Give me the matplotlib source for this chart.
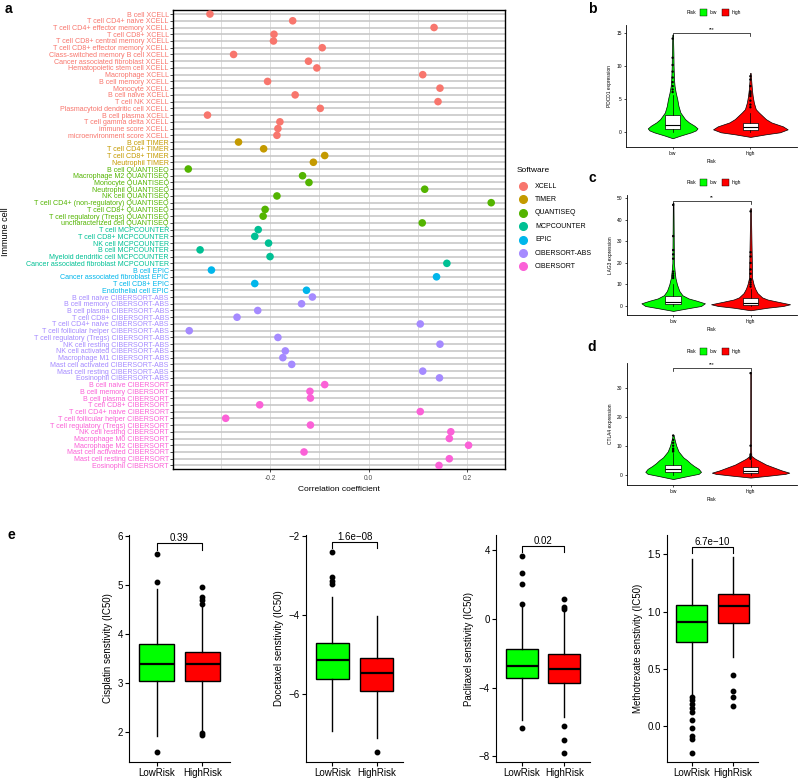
import numpy as np
import matplotlib
matplotlib.use('Agg')
import matplotlib.pyplot as plt
from matplotlib.lines import Line2D
from matplotlib.patches import Rectangle

plt.rcParams['font.family'] = ['Liberation Sans', 'DejaVu Sans']

W, H = 800, 779

# ---------------- panel a data ----------------
sw_names = ['XCELL', 'TIMER', 'QUANTISEQ', 'MCPCOUNTER', 'EPIC', 'CIBERSORT-ABS', 'CIBERSORT']
sw_colors = ['#F8766D', '#C49A00', '#53B400', '#00C094', '#00B6EB', '#A58AFF', '#FB61D7']

xcell_cells = ['B cell', 'T cell CD4+ naive', 'T cell CD4+ effector memory', 'T cell CD8+',
               'T cell CD8+ central memory', 'T cell CD8+ effector memory',
               'Class-switched memory B cell', 'Cancer associated fibroblast',
               'Hematopoietic stem cell', 'Macrophage', 'B cell memory', 'Monocyte',
               'B cell naive', 'T cell NK', 'Plasmacytoid dendritic cell', 'B cell plasma',
               'T cell gamma delta', 'immune score', 'microenvironment score']
xcell_r = [-0.322, -0.154, 0.133, -0.192, -0.193, -0.094, -0.274, -0.122, -0.105, 0.110,
           -0.205, 0.145, -0.149, 0.141, -0.098, -0.327, -0.180, -0.184, -0.186]

timer_cells = ['B cell', 'T cell CD4+', 'T cell CD8+', 'Neutrophil']
timer_r = [-0.264, -0.213, -0.089, -0.112]

quantiseq_cells = ['B cell', 'Macrophage M2', 'Monocyte', 'Neutrophil', 'NK cell',
                   'T cell CD4+ (non-regulatory)', 'T cell CD8+', 'T cell regulatory (Tregs)',
                   'uncharacterized cell']
quantiseq_r = [-0.366, -0.134, -0.121, 0.114, -0.186, 0.249, -0.210, -0.214, 0.109]

mcp_cells = ['T cell', 'T cell CD8+', 'NK cell', 'B cell', 'Myeloid dendritic cell',
             'Cancer associated fibroblast']
mcp_r = [-0.224, -0.231, -0.203, -0.342, -0.200, 0.159]

epic_cells = ['B cell', 'Cancer associated fibroblast', 'T cell CD8+', 'Endothelial cell']
epic_r = [-0.319, 0.138, -0.231, -0.126]

cibabs_cells = ['B cell naive', 'B cell memory', 'B cell plasma', 'T cell CD8+',
                'T cell CD4+ naive', 'T cell follicular helper', 'T cell regulatory (Tregs)',
                'NK cell resting', 'NK cell activated', 'Macrophage M1', 'Mast cell activated',
                'Mast cell resting', 'Eosinophil']
cibabs_r = [-0.114, -0.136, -0.225, -0.267, 0.105, -0.364, -0.184, 0.145, -0.169, -0.174,
            -0.156, 0.110, 0.144]

cib_cells = ['B cell naive', 'B cell memory', 'B cell plasma', 'T cell CD8+',
             'T cell CD4+ naive', 'T cell follicular helper', 'T cell regulatory (Tregs)',
             'NK cell resting', 'Macrophage M0', 'Macrophage M2', 'Mast cell activated',
             'Mast cell resting', 'Eosinophil']
cib_r = [-0.089, -0.119, -0.118, -0.221, 0.105, -0.290, -0.118, 0.167, 0.164, 0.203,
         -0.131, 0.164, 0.143]

# ---------------- panels b-d data (violin outlines) ----------------
pdcd1_low_y = [-0.9, -0.5, 0, 0.3, 0.6, 1.0, 1.5, 2, 3, 4, 5, 6, 7, 8, 10, 12, 14.8]
pdcd1_low_w = [0, 0.10, 0.24, 0.30, 0.32, 0.28, 0.21, 0.16, 0.10, 0.075, 0.06, 0.04, 0.025,
               0.018, 0.012, 0.01, 0.004]
pdcd1_high_y = [-0.7, -0.3, 0, 0.45, 0.9, 1.5, 2, 2.5, 3, 3.5, 4.5, 5.5, 6.5, 8, 9]
pdcd1_high_w = [0, 0.2, 0.38, 0.48, 0.42, 0.27, 0.2, 0.155, 0.11, 0.07, 0.045, 0.03, 0.02,
                0.01, 0.004]
pdcd1_low_box = [0.0, 0.5, 1.1, 2.6, 5.7]
pdcd1_high_box = [0.0, 0.35, 0.8, 1.36, 2.9]
pdcd1_low_out = [14.2, 11.3, 10.2, 9.2, 8.3, 7.6, 7.0, 6.5, 6.1]
pdcd1_high_out = [8.5, 8.0, 7.0, 6.2, 6.0, 5.8, 5.5, 4.8, 4.2, 3.8]

lag3_low_y = [-2.3, -1, 0, 1.25, 2.5, 3.5, 5, 7, 10, 13, 16, 20, 48]
lag3_low_w = [0, 0.2, 0.36, 0.41, 0.3, 0.2, 0.12, 0.08, 0.05, 0.03, 0.02, 0.01, 0.004]
lag3_high_y = [-2, -0.8, 0, 0.8, 2, 3, 4, 6, 8, 10, 13, 45.5]
lag3_high_w = [0, 0.22, 0.42, 0.51, 0.35, 0.22, 0.15, 0.09, 0.06, 0.04, 0.02, 0.004]
lag3_low_box = [0.0, 1.0, 2.0, 4.6, 10.0]
lag3_high_box = [0.0, 0.5, 1.3, 3.6, 8.0]
lag3_low_out = [47, 32.5, 26, 24, 22, 16, 15, 14, 13]
lag3_high_out = [44, 25, 23, 20, 17, 15, 12.5, 12, 11, 10, 9]

ctla4_low_y = [-1.5, -0.5, 0.3, 1.0, 2, 3, 4, 5, 6, 7, 8, 10, 12, 13.8]
ctla4_low_w = [0, 0.18, 0.33, 0.36, 0.33, 0.27, 0.22, 0.18, 0.13, 0.1, 0.07, 0.04, 0.02, 0.004]
ctla4_high_y = [-1.0, -0.3, 0.3, 0.7, 1.5, 2.5, 3.5, 4.5, 5.5, 6.5, 10, 35.5]
ctla4_high_w = [0, 0.25, 0.45, 0.5, 0.4, 0.3, 0.2, 0.13, 0.06, 0.01, 0.005, 0.004]
ctla4_low_box = [0.0, 0.9, 1.8, 3.4, 7.5]
ctla4_high_box = [0.0, 0.5, 1.2, 2.8, 5.2]
ctla4_low_out = [13.5, 12, 11, 10, 9, 8.5, 8]
ctla4_high_out = [35, 10, 7, 6.5, 6, 5.5]

# ---------------- panel e data: [whisker low, q1, median, q3, whisker high] ----------------
groups = ['LowRisk', 'HighRisk']
cis_low = [1.9, 3.03, 3.38, 3.80, 4.93]
cis_high = [2.03, 3.03, 3.38, 3.64, 4.56]
cis_low_out = [5.64, 5.07, 1.58]
cis_high_out = [4.97, 4.75, 4.69, 4.61, 1.97, 1.93]

doc_low = [-6.94, -5.62, -5.14, -4.71, -3.54]
doc_high = [-7.10, -5.91, -5.47, -5.09, -4.02]
doc_low_out = [-2.40, -3.05, -3.13, -3.22]
doc_high_out = [-7.46]

pac_low = [-5.9, -3.47, -2.74, -1.76, 0.75]
pac_high = [-5.71, -3.73, -2.93, -2.06, 0.41]
pac_low_out = [3.65, 2.64, 2.04, 0.87, -6.33]
pac_high_out = [1.13, 0.70, 0.58, -6.23, -7.07, -7.80]

mtx_low = [0.28, 0.737, 0.912, 1.053, 1.459]
mtx_high = [0.60, 0.895, 1.05, 1.152, 1.48]
mtx_low_out = [0.254, 0.225, 0.187, 0.152, 0.123, 0.05, -0.017, -0.09, -0.12, -0.236]
mtx_high_out = [0.447, 0.307, 0.252, 0.175]

GREEN = '#00FF00'
RED = '#FF0000'

fig = plt.figure(figsize=(W / 100, H / 100), dpi=100)


def add_ax(l, t, r, b):
    return fig.add_axes([l / W, 1 - b / H, (r - l) / W, (b - t) / H])


def fx(x):
    return x / W


def fy(y):
    return 1 - y / H


# ---------------- panel a ----------------
all_cells = [xcell_cells, timer_cells, quantiseq_cells, mcp_cells, epic_cells, cibabs_cells, cib_cells]
all_r = [xcell_r, timer_r, quantiseq_r, mcp_r, epic_r, cibabs_r, cib_r]
labels, colors, corr = [], [], []
for name, col, cells, rr in zip(sw_names, sw_colors, all_cells, all_r):
    for c, r in zip(cells, rr):
        labels.append(c + ' ' + name)
        colors.append(col)
        corr.append(r)
ypos = np.arange(len(labels))

ax = add_ax(173, 10, 505, 469.5)
ax.scatter(corr, ypos, c=colors, s=30, edgecolors='none', zorder=3)
ax.set_ylim(len(labels) - 0.4, -0.6)
ax.set_xlim(-0.397, 0.277)
ax.set_yticks(ypos)
ax.set_yticklabels(labels, fontsize=5.1)
for t, c in zip(ax.get_yticklabels(), colors):
    t.set_color(c)
ax.set_xticks([-0.2, 0.0, 0.2])
ax.set_xticklabels(['-0.2', '0.0', '0.2'])
ax.set_xticks([-0.3, -0.1, 0.1], minor=True)
ax.grid(axis='x', which='both', color='#d9d9d9', lw=0.6)
ax.grid(axis='y', which='major', color='#c4c4c4', lw=1.1)
ax.set_axisbelow(True)
ax.tick_params(axis='y', length=2, width=0.5, pad=1)
ax.tick_params(axis='x', which='major', length=2, width=0.5, labelsize=4.8,
               labelcolor='#4d4d4d', pad=2)
ax.tick_params(axis='x', which='minor', length=0)
for s in ax.spines.values():
    s.set_linewidth(1.0)
ax.set_xlabel('Correlation coefficient', fontsize=6, labelpad=3)
fig.text(fx(6), fy(232), 'Immune cell', rotation=90, fontsize=6.5, ha='center', va='center')

# legend for software
fig.text(fx(517), fy(171), 'Software', fontsize=6, ha='left', va='center')
for i, (name, col) in enumerate(zip(sw_names, sw_colors)):
    yy = fy(186 + i * 13.4)
    fig.add_artist(Line2D([fx(523.3)], [yy], marker='o', ms=5.5, color=col, lw=0,
                          transform=fig.transFigure))
    fig.text(fx(535), yy, name, fontsize=5, ha='left', va='center')


# ---------------- panels b-d ----------------
def violin_panel(rect, ylim, yticks, ylabel, low, high, sig, sig_y, legend_y):
    axv = add_ax(*rect)
    for pos, (vy, vw, box, out), col in zip([1, 2], [low, high], [GREEN, RED]):
        vw = np.array(vw)
        axv.fill_betweenx(vy, pos - vw, pos + vw, facecolor=col, edgecolor='black', lw=0.5,
                          zorder=2)
        st = dict(whislo=box[0], q1=box[1], med=box[2], q3=box[3], whishi=box[4], fliers=[])
        axv.bxp([st], positions=[pos], widths=0.2, patch_artist=True, showfliers=False,
                showcaps=False,
                boxprops=dict(facecolor='white', edgecolor='black', lw=0.5),
                medianprops=dict(color='black', lw=0.8),
                whiskerprops=dict(color='black', lw=0.5), manage_ticks=False)
        axv.scatter(np.full(len(out), pos), out, s=3, color='black', zorder=4, edgecolors='none')
    tip = (ylim[1] - ylim[0]) * 0.025
    axv.plot([1, 1, 2, 2], [sig_y - tip, sig_y, sig_y, sig_y - tip], color='black', lw=0.5)
    axv.text(1.5, sig_y + tip * 0.3, sig, fontsize=3.5, ha='center', va='bottom')
    axv.set_xlim(0.4, 2.6)
    axv.set_ylim(*ylim)
    axv.set_yticks(yticks)
    axv.set_xticks([1, 2])
    axv.set_xticklabels(['low', 'high'])
    axv.tick_params(labelsize=3.5, length=1.5, width=0.5, pad=1.5)
    axv.spines['top'].set_visible(False)
    axv.spines['right'].set_visible(False)
    axv.spines['left'].set_linewidth(0.6)
    axv.spines['bottom'].set_linewidth(0.6)
    axv.set_xlabel('Risk', fontsize=3.5, labelpad=2)
    axv.set_ylabel(ylabel, fontsize=3.5, labelpad=3)
    # top legend
    ly = fy(legend_y)
    fig.text(fx(687), ly, 'Risk', fontsize=3.5, ha='left', va='center')
    for x0, col, lab in [(700, GREEN, 'low'), (721.7, RED, 'high')]:
        fig.add_artist(Rectangle((fx(x0), ly - 3.5 / H), 7.3 / W, 7 / H, facecolor=col,
                                 edgecolor='black', lw=0.3, transform=fig.transFigure))
        fig.text(fx(x0 + 10), ly, lab, fontsize=3.5, ha='left', va='center')
    return axv


violin_panel((626, 25, 797, 146.7), (-2.18, 16.26), [0, 5, 10, 15], 'PDCD1 expression',
             (pdcd1_low_y, pdcd1_low_w, pdcd1_low_box, pdcd1_low_out),
             (pdcd1_high_y, pdcd1_high_w, pdcd1_high_box, pdcd1_high_out), '***', 15.0, 12.3)
violin_panel((626.7, 195, 797, 315), (-4.19, 51.6), [0, 10, 20, 30, 40, 50], 'LAG3 expression',
             (lag3_low_y, lag3_low_w, lag3_low_box, lag3_low_out),
             (lag3_high_y, lag3_high_w, lag3_high_box, lag3_high_out), '**', 49.0, 182.7)
violin_panel((626.7, 363.3, 797, 485), (-3.55, 38.4), [0, 10, 20, 30], 'CTLA4 expression',
             (ctla4_low_y, ctla4_low_w, ctla4_low_box, ctla4_low_out),
             (ctla4_high_y, ctla4_high_w, ctla4_high_box, ctla4_high_out), '***', 36.7, 351.7)


# ---------------- panel e ----------------
def box_panel(rect, ylim, yticks, ylabel, low, high, low_out, high_out, pval, br_y, br_leg, fmt=None):
    axb = add_ax(*rect)
    stats = []
    for b, o in [(low, low_out), (high, high_out)]:
        stats.append(dict(whislo=b[0], q1=b[1], med=b[2], q3=b[3], whishi=b[4], fliers=o))
    bp = axb.bxp(stats, positions=[1, 2], widths=0.75, patch_artist=True, showcaps=False,
                 boxprops=dict(edgecolor='black', lw=1.0),
                 medianprops=dict(color='black', lw=1.6),
                 whiskerprops=dict(color='black', lw=1.0),
                 flierprops=dict(marker='o', markerfacecolor='black', markeredgecolor='black',
                                 markersize=3.2),
                 manage_ticks=False)
    for patch, col in zip(bp['boxes'], [GREEN, RED]):
        patch.set_facecolor(col)
    axb.plot([1, 1, 2, 2], [br_leg, br_y, br_y, br_leg], color='black', lw=0.8)
    axb.text(1.5, br_y, pval, fontsize=7, ha='center', va='bottom')
    axb.set_xlim(0.4, 2.6)
    axb.set_ylim(*ylim)
    axb.set_yticks(yticks)
    if fmt:
        axb.set_yticklabels([fmt % v for v in yticks])
    axb.set_xticks([1, 2])
    axb.set_xticklabels(groups)
    axb.tick_params(labelsize=7, length=3, width=0.8, pad=1.5, colors='black')
    axb.spines['top'].set_visible(False)
    axb.spines['right'].set_visible(False)
    axb.spines['left'].set_linewidth(0.8)
    axb.spines['bottom'].set_linewidth(0.8)
    axb.set_ylabel(ylabel, fontsize=7, labelpad=3)
    return axb


box_panel((129, 535, 230, 762), (1.375, 6.03), [2, 3, 4, 5, 6], 'Cisplatin senstivity (IC50)',
          cis_low, cis_high, cis_low_out, cis_high_out, '0.39', 5.86, 5.73)
box_panel((306, 535, 403, 762), (-7.71, -1.98), [-6, -4, -2], 'Docetaxel senstivity (IC50)',
          doc_low, doc_high, doc_low_out, doc_high_out, '1.6e\u221208', -2.15, -2.31)
box_panel((496, 535, 590, 762), (-8.33, 4.87), [-8, -4, 0, 4], 'Paclitaxel senstivity (IC50)',
          pac_low, pac_high, pac_low_out, pac_high_out, '0.02', 4.23, 3.9)
box_panel((667, 535, 758, 762), (-0.318, 1.67), [0.0, 0.5, 1.0, 1.5],
          'Methotrexate senstivity (IC50)',
          mtx_low, mtx_high, mtx_low_out, mtx_high_out, '6.7e\u221210', 1.562, 1.51, fmt='%.1f')

# panel letters
for letter, (x, y) in zip('abcde', [(8, 9), (592, 9), (592, 178), (592, 347), (11, 535)]):
    fig.text(fx(x), fy(y), letter, fontsize=10, fontweight='bold', ha='center', va='center')

fig.savefig('out.png', dpi=100)
